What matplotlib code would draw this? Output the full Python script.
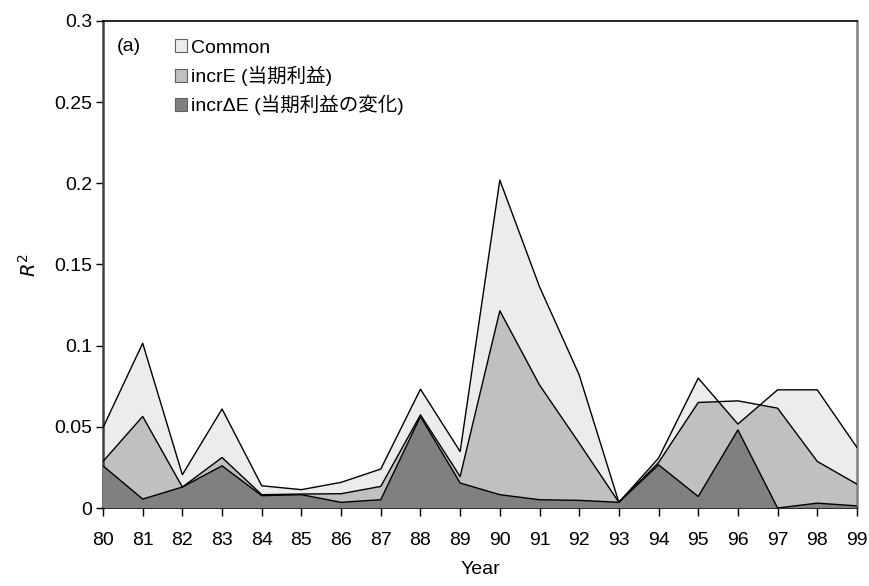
import matplotlib
matplotlib.use("Agg")
import matplotlib.pyplot as plt
from matplotlib.patches import Patch
from matplotlib.ticker import FuncFormatter, MultipleLocator

# Data (line levels of each band)
years = list(range(80, 100))
year_labels = [str(y) for y in years]

common_line = [0.0495, 0.1015, 0.0205, 0.0610, 0.0137, 0.0113, 0.0158, 0.0240, 0.0732, 0.0348,
               0.2020, 0.1363, 0.0820, 0.0035, 0.0307, 0.0800, 0.0517, 0.0728, 0.0728, 0.0373]
incr_e_line = [0.0287, 0.0564, 0.0129, 0.0311, 0.0082, 0.0086, 0.0088, 0.0133, 0.0574, 0.0194,
               0.1215, 0.0758, 0.0400, 0.0035, 0.0280, 0.0650, 0.0660, 0.0615, 0.0287, 0.0147]
incr_de_line = [0.0260, 0.0055, 0.0129, 0.0260, 0.0076, 0.0082, 0.0035, 0.0051, 0.0564, 0.0154,
                0.0082, 0.0051, 0.0047, 0.0035, 0.0266, 0.0071, 0.0481, 0.0000, 0.0030, 0.0013]

labels = ["Common", "incrE (当期利益)", "incrΔE (当期利益の変化)"]
colors = ["#ececec", "#c0c0c0", "#808080"]

FONT = ["Liberation Sans", "Noto Sans CJK JP", "DejaVu Sans"]
plt.rcParams["font.family"] = FONT

fig = plt.figure(figsize=(8.7, 5.86), dpi=100)
ax = fig.add_axes([0.1184, 0.1331, 0.8666, 0.8311])

# Bands: incrE from zero, Common between incrE and total line, incrΔE from zero on top
ax.fill_between(years, 0, incr_e_line, facecolor=colors[1], edgecolor="none", zorder=1)
ax.fill_between(years, incr_e_line, common_line, facecolor=colors[0], edgecolor="none", zorder=2)
ax.fill_between(years, 0, incr_de_line, facecolor=colors[2], edgecolor="none", zorder=3)
for series in (common_line, incr_e_line, incr_de_line):
    ax.plot(years, series, color="black", lw=1.0, zorder=4)

ax.set_xlim(years[0], years[-1])
ax.set_ylim(0, 0.3)
ax.set_xticks(years)
ax.set_xticklabels(year_labels)
ax.yaxis.set_major_locator(MultipleLocator(0.05))
ax.yaxis.set_major_formatter(FuncFormatter(lambda v, p: "%g" % round(v, 2)))

ax.tick_params(axis="x", direction="out", length=6, width=1, pad=11, labelsize=14)
ax.tick_params(axis="y", direction="out", length=5, width=1, pad=3, labelsize=14)

ax.spines["top"].set_color("black")
ax.spines["top"].set_linewidth(1.2)
ax.spines["right"].set_color("#808080")
ax.spines["right"].set_linewidth(1.8)
ax.spines["left"].set_color("#404040")
ax.spines["left"].set_linewidth(1.8)
ax.spines["bottom"].set_color("black")
ax.spines["bottom"].set_linewidth(1.2)

ax.set_xlabel("Year", fontsize=14, labelpad=9)
ax.set_ylabel("$R^2$", fontsize=14, labelpad=10)

ax.text(0.0186, 0.948, "(a)", transform=ax.transAxes, fontsize=14, va="center", ha="left")

handles = [Patch(facecolor=c, edgecolor="#606060", linewidth=0.8) for c in colors]
ax.legend(handles, labels, loc="upper left", bbox_to_anchor=(0.095, 0.962), frameon=False,
          fontsize=14, handlelength=0.65, handleheight=0.65, handletextpad=0.2,
          labelspacing=0.45, borderpad=0, borderaxespad=0)

fig.savefig("out.png", dpi=100)
